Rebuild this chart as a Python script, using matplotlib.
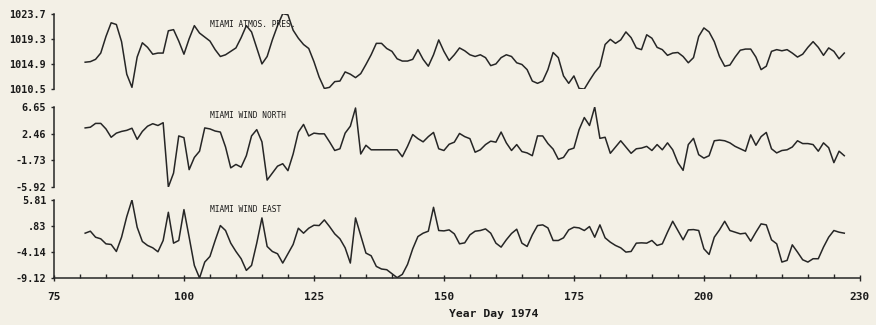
import matplotlib.pyplot as plt

# Year day 1974 (daily samples)
days = list(range(81, 228))

pres = [1015.2, 1015.3, 1015.7, 1016.8, 1019.7, 1022.1, 1021.8, 1018.8, 1013.1, 1010.8,
        1016.1, 1018.6, 1017.8, 1016.6, 1016.8, 1016.8, 1020.7, 1020.9, 1018.9, 1016.6,
        1019.3, 1021.6, 1020.3, 1019.6, 1018.9, 1017.4, 1016.2, 1016.5, 1017.1, 1017.7,
        1019.5, 1021.6, 1020.5, 1017.7, 1014.9, 1016.2, 1019.1, 1021.6, 1023.7, 1023.5,
        1020.8, 1019.4, 1018.3, 1017.6, 1015.3, 1012.6, 1010.6, 1010.8, 1011.8, 1011.9,
        1013.5, 1013.1, 1012.5, 1013.2, 1014.8, 1016.5, 1018.5, 1018.5, 1017.6, 1017.1,
        1015.8, 1015.4, 1015.4, 1015.7, 1017.4, 1015.7, 1014.5, 1016.5, 1019.1, 1017.1,
        1015.5, 1016.5, 1017.7, 1017.2, 1016.5, 1016.2, 1016.5, 1016.0, 1014.6, 1014.9,
        1016.0, 1016.5, 1016.2, 1015.1, 1014.8, 1013.9, 1011.9, 1011.5, 1011.9, 1013.9,
        1016.9, 1016.0, 1012.8, 1011.5, 1012.8, 1010.6, 1010.5, 1012.0, 1013.4, 1014.5,
        1018.3, 1019.2, 1018.5, 1019.1, 1020.5, 1019.5, 1017.7, 1017.4, 1020.0, 1019.4,
        1017.8, 1017.4, 1016.4, 1016.8, 1016.9, 1016.2, 1015.1, 1016.0, 1019.7, 1021.2,
        1020.5, 1018.8, 1016.2, 1014.5, 1014.7, 1016.1, 1017.3, 1017.5, 1017.5, 1016.1,
        1013.9, 1014.5, 1017.1, 1017.4, 1017.2, 1017.4, 1016.8, 1016.1, 1016.6, 1017.8,
        1018.8, 1017.8, 1016.4, 1017.7, 1017.1, 1015.8, 1016.8]

wind_north = [3.37, 3.48, 4.08, 4.08, 3.21, 1.90, 2.55, 2.82, 2.99, 3.32,
              1.57, 2.82, 3.64, 4.03, 3.75, 4.19, -5.92, -3.73, 2.11, 1.84,
              -3.19, -1.27, -0.29, 3.37, 3.21, 2.88, 2.72, 0.37, -2.91, -2.37,
              -2.80, -1.00, 2.11, 3.10, 1.18, -4.83, -3.73, -2.64, -2.26, -3.35,
              -0.73, 2.70, 3.92, 2.11, 2.55, 2.44, 2.44, 1.18, -0.18, 0.09,
              2.55, 3.64, 6.50, -0.73, 0.64, -0.07, -0.07, -0.07, -0.07, -0.07,
              -0.07, -1.16, 0.47, 2.33, 1.68, 1.18, 2.00, 2.66, 0.09, -0.18,
              0.80, 1.13, 2.50, 2.00, 1.68, -0.45, -0.07, 0.75, 1.29, 1.13,
              2.72, 1.02, -0.18, 0.75, -0.35, -0.56, -1.00, 2.11, 2.11, 0.91,
              0.04, -1.55, -1.27, -0.07, 0.20, 3.10, 5.00, 3.75, 6.65, 1.73,
              1.90, -0.62, 0.37, 1.35, 0.37, -0.62, 0.09, 0.20, 0.47, -0.18,
              0.75, -0.07, 1.02, -0.07, -2.09, -3.30, 0.75, 1.73, -0.84, -1.38,
              -1.00, 1.35, 1.46, 1.35, 1.02, 0.47, 0.09, -0.29, 2.28, 0.64,
              2.00, 2.66, 0.09, -0.56, -0.18, -0.07, 0.37, 1.35, 0.91, 0.91,
              0.75, -0.29, 1.02, 0.26, -2.09, -0.29, -1.00]

wind_east = [-0.54, -0.16, -1.31, -1.62, -2.58, -2.70, -4.04, -1.31, 2.63, 5.81,
             0.60, -2.13, -2.89, -3.34, -4.10, -1.94, 3.46, -2.45, -1.94, 3.97,
             -1.31, -6.71, -9.12, -6.07, -4.99, -1.94, 0.92, -0.03, -2.45, -4.04,
             -5.43, -7.66, -6.71, -2.45, 2.38, -3.08, -4.04, -4.48, -6.26, -4.48,
             -2.70, 0.41, -0.54, 0.41, 0.98, 0.92, 2.00, 0.73, -0.67, -1.62,
             -3.34, -6.26, 2.38, -0.99, -4.35, -4.86, -6.90, -7.40, -7.53, -8.29,
             -9.05, -8.42, -6.51, -3.53, -1.18, -0.54, -0.16, 4.41, -0.03, -0.10,
             0.09, -0.67, -2.58, -2.39, -0.86, -0.16, -0.03, 0.28, -0.54, -2.45,
             -3.21, -1.81, -0.60, 0.22, -2.45, -3.08, -0.86, 0.92, 1.05, 0.47,
             -1.94, -1.94, -1.43, 0.09, 0.60, 0.47, -0.03, 0.73, -1.31, 1.05,
             -1.43, -2.26, -2.89, -3.34, -4.16, -4.04, -2.45, -2.39, -2.45, -1.94,
             -2.89, -2.58, -0.35, 1.74, -0.03, -1.81, 0.09, 0.15, -0.03, -3.53,
             -4.61, -1.31, 0.09, 1.74, -0.03, -0.35, -0.67, -0.54, -2.07, -0.35,
             1.24, 1.05, -1.81, -2.58, -6.07, -5.75, -2.77, -4.16, -5.63, -6.07,
             -5.43, -5.43, -3.21, -1.31, -0.03, -0.35, -0.54]

pres_ticks = [1010.5, 1014.9, 1019.3, 1023.7]
pres_labels = ["1010.5", "1014.9", "1019.3", "1023.7"]
north_ticks = [-5.92, -1.73, 2.46, 6.65]
north_labels = ["-5.92", "-1.73", "2.46", "6.65"]
east_ticks = [-9.12, -4.14, 0.83, 5.81]
east_labels = ["-9.12", "-4.14", ".83", "5.81"]
x_ticks = [75, 100, 125, 150, 175, 200, 230]

bg = "#f3f0e6"
ink = "#262626"
mono = "DejaVu Sans Mono"

fig = plt.figure(figsize=(8.76, 3.25), dpi=100, facecolor=bg)

panels = [
    ([0.0616, 0.726, 0.920, 0.232], pres, pres_ticks, pres_labels, "MIAMI ATMOS. PRES.", 0.85),
    ([0.0616, 0.4246, 0.920, 0.246], wind_north, north_ticks, north_labels, "MIAMI WIND NORTH", 0.89),
    ([0.0616, 0.1446, 0.920, 0.240], wind_east, east_ticks, east_labels, "MIAMI WIND EAST", 0.875),
]

axes = []
for rect, series, ticks, labels, name, ty in panels:
    ax = fig.add_axes(rect)
    ax.set_facecolor("none")
    ax.plot(days, series, color=ink, lw=1.1)
    ax.set_xlim(75, 230)
    ax.set_ylim(ticks[0], ticks[-1])
    ax.set_yticks(ticks, labels=labels)
    ax.set_yticks([ticks[0], ticks[-1]], minor=True)
    ax.tick_params(axis="y", which="major", direction="out", length=2.5, width=1,
                   pad=3, color=ink, labelcolor="#1a1a1a")
    ax.tick_params(axis="y", which="minor", direction="in", length=4, width=1, color=ink)
    for lab in ax.get_yticklabels():
        lab.set_fontfamily(mono)
        lab.set_fontweight("bold")
        lab.set_fontsize(7.3)
    for s in ["top", "right", "bottom"]:
        ax.spines[s].set_visible(False)
    ax.spines["left"].set_color(ink)
    ax.spines["left"].set_linewidth(1.1)
    ax.text(0.1935, ty, name, transform=ax.transAxes, fontsize=5.7,
            family=mono, color="#1a1a1a", va="center", ha="left")
    ax.set_xticks([])
    axes.append(ax)

ax = axes[-1]
ax.spines["bottom"].set_visible(True)
ax.spines["bottom"].set_color(ink)
ax.spines["bottom"].set_linewidth(1.1)
ax.set_xticks(x_ticks)
ax.set_xticks(range(80, 230, 5), minor=True)
ax.tick_params(axis="x", which="major", direction="inout", length=4, width=1,
               pad=8, color=ink, labelcolor="#1a1a1a")
ax.tick_params(axis="x", which="minor", direction="in", length=3, width=1, color=ink)
for lab in ax.get_xticklabels():
    lab.set_fontfamily(mono)
    lab.set_fontweight("bold")
    lab.set_fontsize(8)
ax.set_xlabel("Year Day 1974", fontsize=8.2, family=mono, fontweight="bold", color="#1a1a1a")
ax.xaxis.set_label_coords(0.545, -0.40)

plt.savefig("out.png", dpi=100, facecolor=bg)
